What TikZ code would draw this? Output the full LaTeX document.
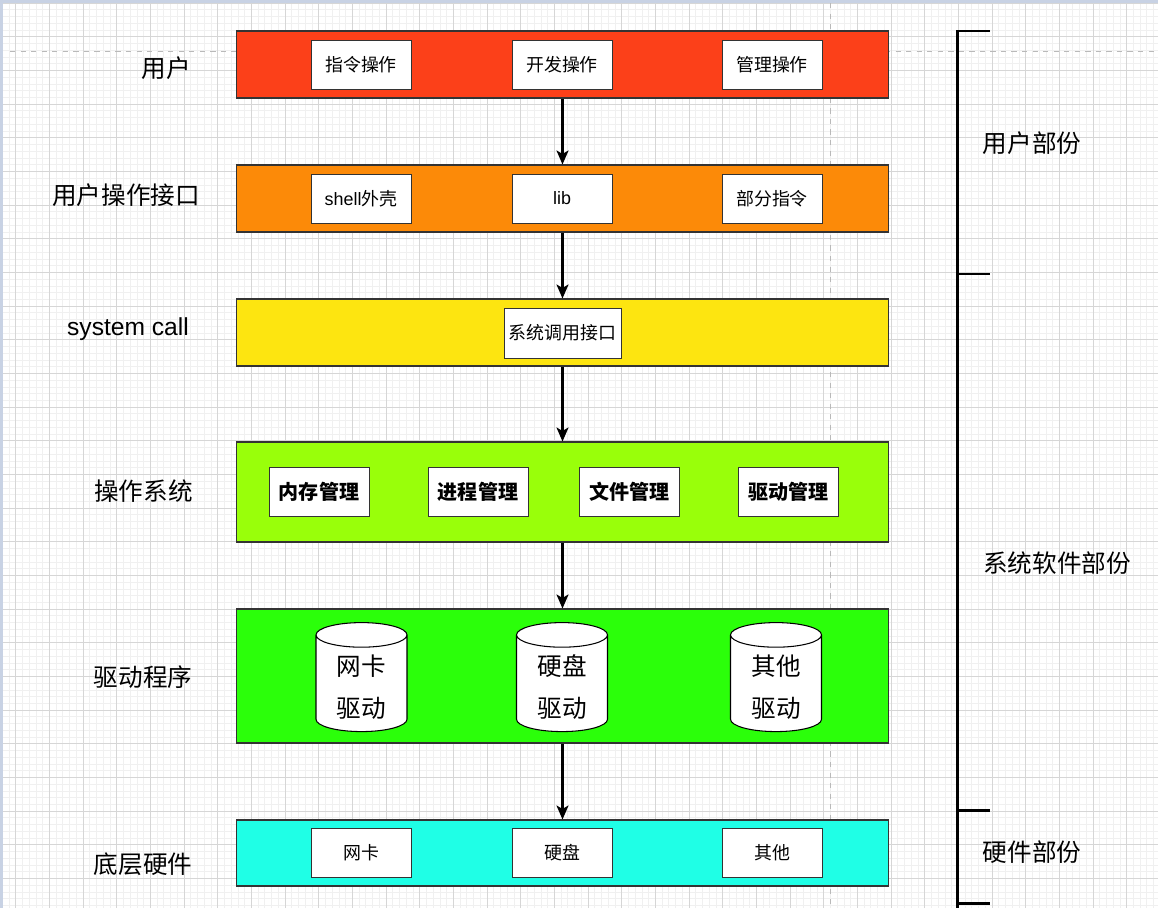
\documentclass[tikz,border=0pt]{standalone}
\usepackage{fontspec}
\setmainfont{Noto Sans CJK SC}
\newfontfamily\lat{Liberation Sans}
\usepackage{xcolor}
\usepackage{tikz}
\usetikzlibrary{arrows.meta,shapes.geometric}
\definecolor{cUser}{RGB}{252,64,25}
\definecolor{cShell}{RGB}{252,138,8}
\definecolor{cCall}{RGB}{253,229,16}
\definecolor{cKernel}{RGB}{153,255,10}
\definecolor{cDriver}{RGB}{43,255,10}
\definecolor{cHard}{RGB}{31,255,230}
\definecolor{gridmin}{RGB}{240,240,240}
\definecolor{gridmaj}{RGB}{214,214,214}
\definecolor{guide}{RGB}{185,185,185}
\definecolor{band}{RGB}{200,210,228}
% two-line text of a driver cylinder, set a little low
\newcommand\drvtext[2]{\raisebox{-2.85pt}[17.5pt][10.5pt]{\begin{tabular}{@{}c@{}}#1\\#2\end{tabular}}}

\begin{document}
\begin{tikzpicture}[x=0.02cm,y=-0.02cm,
  layer/.style={draw=black!80,line width=0.6pt,minimum width=13.06cm,inner sep=0pt},
  item/.style={draw=black!80,fill=white,line width=0.5pt,minimum width=2cm,minimum height=0.98cm,inner sep=1pt,font=\fontsize{10.2}{12}\selectfont},
  bitem/.style={item,font=\fontsize{11.4}{13}\selectfont\bfseries},
  drv/.style={cylinder,shape border rotate=90,aspect=0.5,draw=black,fill=white,line width=0.6pt,
    minimum width=1.82cm,minimum height=2.18cm,inner sep=0pt,font=\fontsize{14}{24}\selectfont},
  lbl/.style={font=\fontsize{14}{17}\selectfont},
  ar/.style={-{Stealth[length=0.28cm,width=0.24cm,inset=0.07cm]},line width=1.2pt},
  gmin/.style={draw=gridmin,line width=0.3pt}, gmaj/.style={draw=gridmaj,line width=0.5pt}]
\useasboundingbox (0,0) rectangle (1158,908);
% canvas grid and guides
\fill[white] (0,0) rectangle (1158,908);
\foreach \i in {0,...,172} \draw[gmin] ({2.13+6.733*\i},0) -- ++(0,908);
\foreach \i in {0,...,135} \draw[gmin] (0,{3+6.733*\i}) -- ++(1158,0);
\foreach \i in {0,...,34} \draw[gmaj] ({15.6+33.67*\i},0) -- ++(0,908);
\foreach \i in {0,...,26} \draw[gmaj] (0,{3+33.67*\i}) -- ++(1158,0);
\draw[guide,dashed,line width=0.5pt] (10,51) -- (1158,51);
\draw[guide,dashed,line width=0.5pt] (830,3) -- (830,908);
\fill[band] (0,0) rectangle (1158,3);
\fill[band] (0,0) rectangle (2.5,908);
% layers
\node[layer,fill=cUser,minimum height=1.34cm] (user) at (562.5,64.5) {};
\node[layer,fill=cShell,minimum height=1.34cm] (uif) at (562.5,198.5) {};
\node[layer,fill=cCall,minimum height=1.34cm] (sys) at (562.5,332.5) {};
\node[layer,fill=cKernel,minimum height=2cm] (os) at (562.5,492) {};
\node[layer,fill=cDriver,minimum height=2.68cm] (drvl) at (562.5,676) {};
\node[layer,fill=cHard,minimum height=1.32cm] (hw) at (562.5,853) {};
% items
\node[item] (cmd) at (361,64.5) {指令操作};
\node[item] (dev) at (562,64.5) {开发操作};
\node[item] (mgr) at (772,64.5) {管理操作};
\node[item] (shell) at (361,198.5) {{\lat shell}外壳};
\node[item] (lib) at (562,198.5) {\lat lib};
\node[item] (part) at (772,198.5) {部分指令};
\node[item,minimum width=2.34cm,minimum height=1cm] (call) at (562.5,333) {系统调用接口};
\node[bitem] (mem) at (319,492) {内存管理};
\node[bitem] (proc) at (478,492) {进程管理};
\node[bitem] (file) at (629.5,492) {文件管理};
\node[bitem] (dmgr) at (788.5,492) {驱动管理};
\node[drv] (nicd) at (361.5,683.5) {\drvtext{网卡}{驱动}};
\node[drv] (hddd) at (562,683.5) {\drvtext{硬盘}{驱动}};
\node[drv] (othd) at (776,683.5) {\drvtext{其他}{驱动}};
\node[item] (nic) at (361,852.5) {网卡};
\node[item] (hdd) at (562,852.5) {硬盘};
\node[item] (oth) at (772,852.5) {其他};
\draw[ar] (user) -- (uif); \draw[ar] (uif) -- (sys); \draw[ar] (sys) -- (os);
\draw[ar] (os) -- (drvl); \draw[ar] (drvl) -- (hw);
% left labels
\node[lbl] (l1) at (166.5,68) {用户};
\node[lbl] (l2) at (126,195) {用户操作接口};
\node[lbl] (l3) at (128,329) {\lat system call};
\node[lbl] (l4) at (143.5,491) {操作系统};
\node[lbl] (l5) at (143,677) {驱动程序};
\node[lbl] (l6) at (143,864) {底层硬件};
% bracket on the right
\draw[line width=1.7pt] (990,31) -- (957,31) -- (957,908);
\draw[line width=1.7pt] (957,274) -- (990,274);
\draw[line width=1.7pt] (957,810) -- (990,810);
\draw[line width=1.7pt] (957,903) -- (990,903);
\node[lbl] (p1) at (1032,143) {用户部份};
\node[lbl] (p2) at (1057,563) {系统软件部份};
\node[lbl] (p3) at (1032,852) {硬件部份};
\end{tikzpicture}
\end{document}
